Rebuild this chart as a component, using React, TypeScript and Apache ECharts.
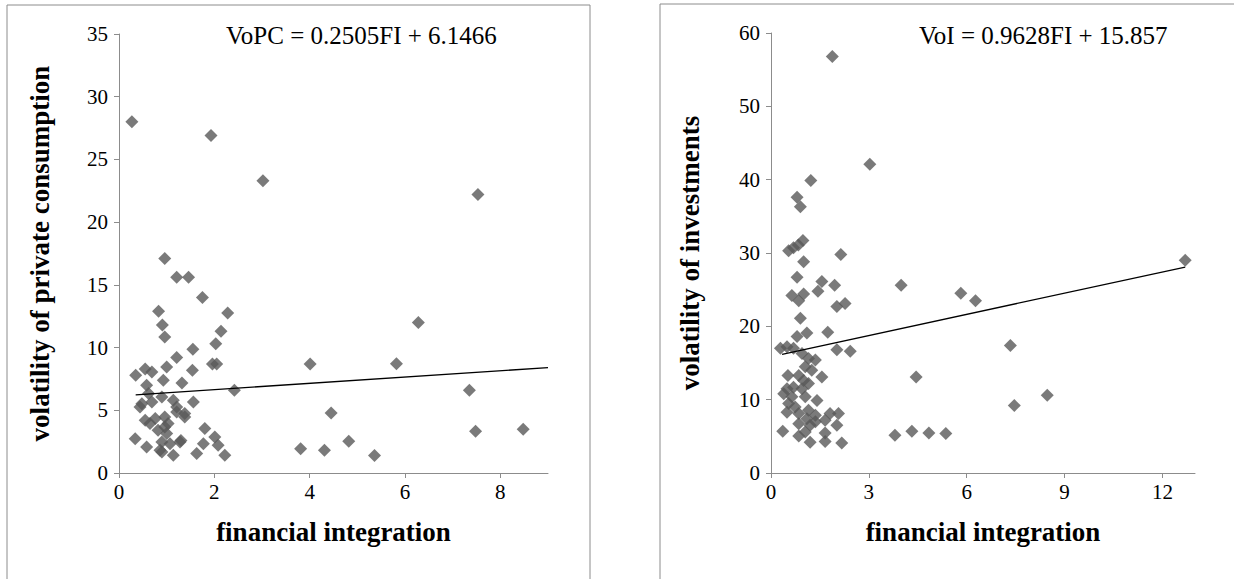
import React, { useEffect, useRef } from "react";
import * as echarts from "echarts";

const FONT = "'Liberation Serif', 'Times New Roman', serif";

// Left panel: financial integration vs volatility of private consumption
const consumptionPoints: number[][] = [
  [0.27, 28.0], [1.93, 26.9], [3.02, 23.3], [7.53, 22.2],
  [0.96, 17.1], [1.21, 15.6], [1.46, 15.6], [1.75, 14.0], [0.83, 12.9], [2.28, 12.75],
  [6.28, 12.0], [0.91, 11.8], [0.96, 10.85], [2.14, 11.3], [2.03, 10.3], [1.55, 9.86],
  [1.21, 9.2], [1.96, 8.7], [2.05, 8.7], [4.01, 8.69], [5.82, 8.72], [1.54, 8.19],
  [1.0, 8.45], [0.35, 7.79], [0.55, 8.3], [0.69, 8.05], [1.32, 7.18], [0.58, 7.0],
  [0.93, 7.4], [2.42, 6.6], [7.35, 6.6], [0.9, 6.06], [0.62, 6.33], [1.14, 5.8],
  [1.56, 5.66], [0.48, 5.53], [0.69, 5.66], [0.44, 5.26], [1.21, 5.26], [1.38, 4.74],
  [1.21, 4.87], [4.45, 4.79], [0.55, 4.2], [0.76, 4.34], [0.96, 4.47], [1.38, 4.47],
  [1.03, 3.94], [0.65, 3.94], [0.96, 3.67], [1.8, 3.54], [0.82, 3.4], [1.0, 3.14],
  [7.48, 3.33], [8.48, 3.48], [0.34, 2.74], [1.3, 2.6], [2.01, 2.87], [4.82, 2.53],
  [1.07, 2.34], [1.28, 2.47], [0.9, 2.47], [1.77, 2.34], [2.08, 2.21], [0.58, 2.07],
  [3.81, 1.94], [4.31, 1.81], [0.86, 1.81], [0.9, 1.67], [1.63, 1.55], [1.14, 1.41],
  [2.22, 1.41], [5.36, 1.39]
];

// Right panel: financial integration vs volatility of investments
const investmentPoints: number[][] = [
  [1.88, 56.8], [3.03, 42.1], [1.22, 39.9], [0.8, 37.6], [0.9, 36.3], [0.98, 31.7],
  [0.84, 31.1], [0.69, 30.7], [0.54, 30.3], [2.14, 29.8], [12.7, 29.0], [1.0, 28.8],
  [0.8, 26.7], [1.56, 26.1], [1.95, 25.6], [3.99, 25.6], [1.44, 24.8], [5.82, 24.5],
  [1.0, 24.4], [0.64, 24.2], [0.85, 23.5], [6.27, 23.5], [2.27, 23.1], [2.02, 22.7],
  [0.9, 21.1], [1.74, 19.2], [1.1, 19.1], [0.8, 18.6], [7.34, 17.4], [0.49, 17.2],
  [0.29, 17.0], [0.69, 17.0], [2.02, 16.8], [2.43, 16.6], [0.95, 16.3], [1.15, 15.6],
  [1.36, 15.4], [1.05, 14.5], [1.25, 14.0], [0.52, 13.3], [0.85, 13.3], [1.56, 13.1],
  [4.45, 13.1], [1.0, 12.6], [1.15, 12.2], [0.69, 11.7], [0.49, 11.5], [0.95, 11.5],
  [0.39, 10.8], [8.47, 10.6], [0.64, 10.4], [1.05, 10.4], [1.41, 9.9], [0.54, 9.47],
  [7.46, 9.2], [0.74, 9.0], [1.15, 8.55], [0.49, 8.3], [0.85, 8.1], [1.81, 8.1],
  [2.07, 8.1], [1.36, 7.87], [1.1, 7.4], [1.66, 7.2], [1.36, 7.0], [0.85, 6.7],
  [2.02, 6.5], [1.2, 6.5], [0.36, 5.7], [4.32, 5.69], [1.05, 5.6], [1.66, 5.46],
  [4.84, 5.46], [5.36, 5.37], [3.8, 5.14], [0.85, 5.05], [1.66, 4.3], [1.2, 4.2],
  [2.17, 4.1]
];

// Trend-line coefficients (slope, intercept) and drawn x-range
const consumptionTrend = { slope: 0.2505, intercept: 6.1466, from: 0.35, to: 9 };
const investmentTrend = { slope: 0.9628, intercept: 15.857, from: 0.34, to: 12.7 };

const leftXTicks = [0, 2, 4, 6, 8];
const rightXTicks = [0, 3, 6, 9, 12];

const equationLeft = "VoPC = 0.2505FI + 6.1466";
const equationRight = "VoI = 0.9628FI + 15.857";
const xTitle = "financial integration";
const yTitleLeft = "volatility of private consumption";
const yTitleRight = "volatility of investments";

function trendData(t: { slope: number; intercept: number; from: number; to: number }) {
  return [
    [t.from, t.slope * t.from + t.intercept],
    [t.to, t.slope * t.to + t.intercept]
  ];
}

const axisLine = { show: true, lineStyle: { color: "#8c8c8c", width: 1 } };
const axisTick = { show: true, length: 5, inside: false, lineStyle: { color: "#8c8c8c" } };
const labelStyle = { color: "#000", fontFamily: FONT, fontSize: 21 };
const nameStyle = { color: "#000", fontFamily: FONT, fontSize: 27, fontWeight: "bold" as const };

export default function App() {
  const ref = useRef<HTMLDivElement>(null);
  useEffect(() => {
    if (!ref.current) return;
    const chart = echarts.init(ref.current, null, { renderer: "svg" });
    const xAxisBase = (gridIndex: number, max: number, interval: number, ticks: number[]) => ({
      type: "value",
      gridIndex,
      min: 0,
      max,
      interval,
      axisLine,
      axisTick: { ...axisTick, customValues: ticks },
      axisLabel: { ...labelStyle, margin: 8, customValues: ticks },
      splitLine: { show: false },
      name: xTitle,
      nameLocation: "middle",
      nameGap: 45,
      nameTextStyle: nameStyle
    });
    const yAxisBase = (gridIndex: number, max: number, interval: number, title: string, gap: number) => ({
      type: "value",
      gridIndex,
      min: 0,
      max,
      interval,
      axisLine,
      axisTick,
      axisLabel: { ...labelStyle, margin: 11 },
      splitLine: { show: false },
      name: title,
      nameLocation: "middle",
      nameRotate: 90,
      nameGap: gap,
      nameTextStyle: nameStyle
    });
    const scatterStyle = { color: "#595959" };
    chart.setOption({
      animation: false,
      backgroundColor: "#fff",
      grid: [
        { left: 119, top: 34, width: 429, height: 439 },
        { left: 771, top: 33, width: 424, height: 440 }
      ],
      xAxis: [
        xAxisBase(0, 9, 2, leftXTicks),
        xAxisBase(1, 13, 3, rightXTicks)
      ],
      yAxis: [
        yAxisBase(0, 35, 5, yTitleLeft, 66),
        yAxisBase(1, 60, 10, yTitleRight, 68)
      ],
      series: [
        {
          type: "scatter",
          xAxisIndex: 0,
          yAxisIndex: 0,
          symbol: "diamond",
          symbolSize: 13,
          itemStyle: scatterStyle,
          data: consumptionPoints,
          z: 2
        },
        {
          type: "line",
          xAxisIndex: 0,
          yAxisIndex: 0,
          data: trendData(consumptionTrend),
          symbol: "none",
          lineStyle: { color: "#000", width: 1.3 },
          z: 3
        },
        {
          type: "scatter",
          xAxisIndex: 1,
          yAxisIndex: 1,
          symbol: "diamond",
          symbolSize: 13,
          itemStyle: scatterStyle,
          data: investmentPoints,
          z: 2
        },
        {
          type: "line",
          xAxisIndex: 1,
          yAxisIndex: 1,
          data: trendData(investmentTrend),
          symbol: "none",
          lineStyle: { color: "#000", width: 1.3 },
          z: 3
        }
      ],
      graphic: [
        {
          type: "rect",
          shape: { x: 7, y: 5, width: 583, height: 620 },
          style: { fill: "none", stroke: "#8c8c8c", lineWidth: 1 },
          silent: true
        },
        {
          type: "rect",
          shape: { x: 660, y: 4, width: 620, height: 620 },
          style: { fill: "none", stroke: "#8c8c8c", lineWidth: 1 },
          silent: true
        },
        {
          type: "text",
          x: 226,
          y: 35,
          style: {
            text: equationLeft,
            fontFamily: FONT,
            fontSize: 25,
            fill: "#000",
            verticalAlign: "middle"
          }
        },
        {
          type: "text",
          x: 919,
          y: 35,
          style: {
            text: equationRight,
            fontFamily: FONT,
            fontSize: 25,
            fill: "#000",
            verticalAlign: "middle"
          }
        }
      ]
    });
    return () => chart.dispose();
  }, []);
  return (
    <div
      ref={ref}
      style={{ position: "fixed", left: 0, top: 0, width: 1234, height: 579, background: "#fff" }}
    />
  );
}
